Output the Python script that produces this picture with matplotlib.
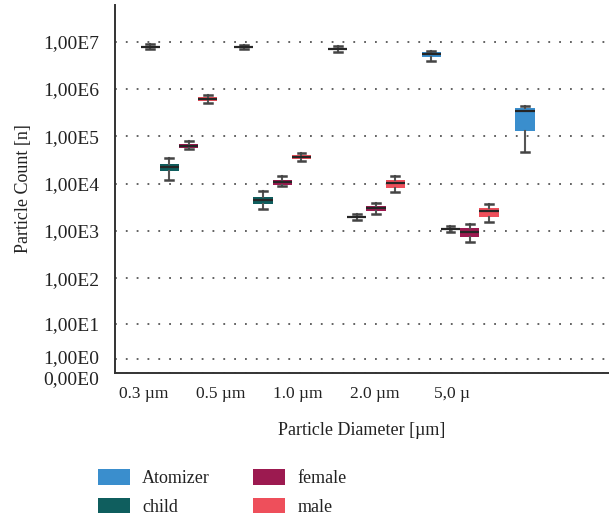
import numpy as np
import matplotlib.pyplot as plt
import matplotlib.transforms as mtransforms
from matplotlib.patches import Patch
from matplotlib.ticker import FixedLocator, FuncFormatter

plt.rcParams['font.family'] = ['Liberation Serif', 'DejaVu Serif']

diameters = ["0.3 µm", "0.5 µm", "1.0 µm", "2.0 µm", "5,0 µ"]
series = ["Atomizer", "child", "female", "male"]

# five-number summaries per diameter: (whislo, q1, median, q3, whishi)
atomizer = [(7.0e6, 7.5e6, 7.75e6, 8.0e6, 8.9e6),
            (7.0e6, 7.5e6, 7.7e6, 8.0e6, 8.7e6),
            (6.15e6, 6.8e6, 7.1e6, 7.45e6, 8.2e6),
            (3.9e6, 4.8e6, 5.4e6, 6.05e6, 6.35e6),
            (4.6e4, 1.3e5, 3.45e5, 3.95e5, 4.45e5)]
child = [(1.2e4, 1.88e4, 2.22e4, 2.6e4, 3.5e4),
         (2.9e3, 3.8e3, 4.45e3, 5.25e3, 6.9e3),
         (1.73e3, 1.88e3, 1.97e3, 2.07e3, 2.25e3),
         (965, 1050, 1100, 1160, 1255),
         None]
female = [(5.4e4, 5.7e4, 6.4e4, 6.9e4, 8.0e4),
          (8.8e3, 9.5e3, 1.07e4, 1.2e4, 1.43e4),
          (2.32e3, 2.65e3, 3.02e3, 3.37e3, 3.85e3),
          (586, 746, 966, 1175, 1425),
          None]
male = [(5.07e5, 5.58e5, 6.15e5, 6.78e5, 7.48e5),
        (3.0e4, 3.37e4, 3.7e4, 4.1e4, 4.4e4),
        (6.7e3, 8.2e3, 1.05e4, 1.18e4, 1.43e4),
        (1.55e3, 2.0e3, 2.6e3, 3.06e3, 3.67e3),
        None]
y_ticks = [0, 1, 10, 100, 1e3, 1e4, 1e5, 1e6, 1e7]

colors = {"Atomizer": "#3a8ecd", "child": "#0f5e5e",
          "female": "#9c1a50", "male": "#ee4f5b"}
# in the first three groups the atomizer box is drawn in the child colour
atomizer_colors = ["#0f5e5e", "#0f5e5e", "#0f5e5e", "#3a8ecd", "#3a8ecd"]

fig = plt.figure(figsize=(6.09, 5.17), dpi=100)
ax = fig.add_axes([114.5 / 609, 1 - 373 / 517, 1 - 114.5 / 609, (373 - 5) / 517])

ax.set_yscale('function', functions=(lambda v: np.log10(1 + np.clip(v, 0, None)),
                                      lambda t: 10 ** t - 1))

slot = 0.205
all_data = [atomizer, child, female, male]
for j, (name, data) in enumerate(zip(series, all_data)):
    for i, s in enumerate(data):
        if s is None:
            continue
        lo, q1, med, q3, hi = s
        stats = [dict(whislo=lo, q1=q1, med=med, q3=q3, whishi=hi, fliers=[])]
        fc = atomizer_colors[i] if name == "Atomizer" else colors[name]
        ax.bxp(stats, positions=[i + (j - 1.5) * slot], widths=0.205,
               capwidths=0.085, patch_artist=True, showfliers=False,
               boxprops=dict(facecolor=fc, edgecolor=fc, linewidth=0),
               medianprops=dict(color="#262626", linewidth=1.6),
               whiskerprops=dict(color="#555555", linewidth=1.5),
               capprops=dict(color="#444444", linewidth=1.8),
               manage_ticks=False, zorder=3)


def comma_sci(v, pos):
    if v <= 0:
        return "0,00E0"
    e = int(np.floor(np.log10(v) + 1e-9))
    return f"{v / 10 ** e:.2f}".replace(".", ",") + f"E{e}"


ax.set_ylim(0, 5.96e7)
ax.yaxis.set_major_locator(FixedLocator(y_ticks))
ax.yaxis.set_major_formatter(FuncFormatter(comma_sci))
ax.yaxis.set_minor_locator(FixedLocator([]))
ax.set_xlim(-0.688, 4.589)
ax.set_xticks([-0.374 + 0.822 * i for i in range(len(diameters))])
ax.set_xticklabels(diameters)

ax.grid(axis='y', linestyle=(0, (1, 5)), color="#555555", linewidth=1.3)
ax.set_axisbelow(True)
ax.tick_params(axis='x', length=0, pad=9, labelsize=12.5, labelcolor="#222222")
ax.tick_params(axis='y', length=0, pad=11, labelsize=14, labelcolor="#222222")
for sp in ['top', 'right']:
    ax.spines[sp].set_visible(False)
for sp in ['left', 'bottom']:
    ax.spines[sp].set_color("#333333")
    ax.spines[sp].set_linewidth(1.4)

# nudge the two crowded bottom labels apart, as in the original
ylabels = ax.get_yticklabels()
ylabels[0].set_transform(ylabels[0].get_transform() +
                         mtransforms.ScaledTranslation(0, -3 / 72, fig.dpi_scale_trans))
ylabels[1].set_transform(ylabels[1].get_transform() +
                         mtransforms.ScaledTranslation(0, 1.5 / 72, fig.dpi_scale_trans))

ax.set_xlabel("Particle Diameter [µm]", fontsize=13, labelpad=15, color="#222222")
ax.set_ylabel("Particle Count [n]", fontsize=13, labelpad=8, color="#222222")

handles = [Patch(facecolor=colors[s], edgecolor='none') for s in series]
fig.legend(handles, series, loc='upper left', bbox_to_anchor=(98 / 609, 1 - 469 / 517),
           ncol=2, frameon=False, fontsize=13, handlelength=1.75, handleheight=0.95,
           handletextpad=0.7, columnspacing=2.4, labelspacing=0.6, borderpad=0,
           borderaxespad=0, labelcolor="#222222")

fig.savefig("out.png", dpi=100)
